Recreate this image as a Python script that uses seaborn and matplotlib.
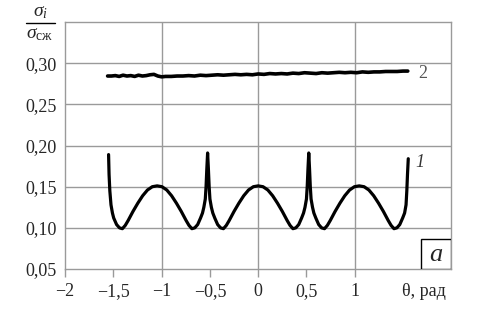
import matplotlib
matplotlib.use('Agg')
import pandas as pd
import matplotlib.pyplot as plt
import seaborn as sns
from matplotlib.patches import Rectangle

# curve 1 (σ_i / σ_сж vs θ)
theta_1 = [-1.550, -1.545, -1.537, -1.525, -1.510, -1.497, -1.467, -1.437, -1.407, -1.377, -1.347,
           -1.297, -1.247, -1.197, -1.147, -1.097, -1.047, -0.997, -0.947, -0.897, -0.847, -0.797,
           -0.747, -0.717, -0.687, -0.657, -0.627, -0.597, -0.577, -0.563, -0.548, -0.540, -0.532, -0.524,
           -0.516, -0.508, -0.500, -0.485, -0.470, -0.450, -0.420, -0.390, -0.360, -0.330, -0.300,
           -0.250, -0.200, -0.150, -0.100, -0.050, 0.000, 0.050, 0.100, 0.150, 0.200, 0.250, 0.300,
           0.330, 0.360, 0.390, 0.420, 0.450, 0.470, 0.485, 0.500, 0.508, 0.516, 0.524,
           0.532, 0.540, 0.548, 0.563, 0.577, 0.597, 0.627, 0.657, 0.687, 0.717, 0.747, 0.797, 0.847,
           0.897, 0.947, 0.997, 1.047, 1.097, 1.147, 1.197, 1.247, 1.297, 1.347, 1.377, 1.407, 1.437,
           1.467, 1.497, 1.517, 1.532, 1.540, 1.547, 1.555]
sigma_1 = [0.189, 0.165, 0.145, 0.128, 0.118, 0.112, 0.104, 0.100, 0.099, 0.103, 0.109,
           0.120, 0.130, 0.139, 0.146, 0.150, 0.151, 0.150, 0.146, 0.139, 0.130, 0.120,
           0.109, 0.103, 0.099, 0.100, 0.104, 0.112, 0.118, 0.125, 0.135, 0.150, 0.172, 0.191,
           0.172, 0.150, 0.135, 0.125, 0.118, 0.112, 0.104, 0.100, 0.099, 0.103, 0.109,
           0.120, 0.130, 0.139, 0.146, 0.150, 0.151, 0.150, 0.146, 0.139, 0.130, 0.120, 0.109,
           0.103, 0.099, 0.100, 0.104, 0.112, 0.118, 0.125, 0.135, 0.150, 0.172, 0.191,
           0.172, 0.150, 0.135, 0.125, 0.118, 0.112, 0.104, 0.100, 0.099, 0.103, 0.109, 0.120, 0.130,
           0.139, 0.146, 0.150, 0.151, 0.150, 0.146, 0.139, 0.130, 0.120, 0.109, 0.103, 0.099, 0.100,
           0.104, 0.112, 0.118, 0.128, 0.145, 0.165, 0.184]

# curve 2 (almost flat, slightly noisy)
theta_2 = [-1.56, -1.52, -1.48, -1.44, -1.40, -1.36, -1.32, -1.28, -1.24, -1.20, -1.16, -1.12,
           -1.08, -1.04, -1.00, -0.96, -0.90, -0.84, -0.78, -0.72, -0.66, -0.60, -0.54, -0.48,
           -0.42, -0.36, -0.30, -0.24, -0.18, -0.12, -0.06, 0.00, 0.06, 0.12, 0.18, 0.24, 0.30,
           0.36, 0.42, 0.48, 0.54, 0.60, 0.66, 0.72, 0.78, 0.84, 0.90, 0.96, 1.02, 1.08, 1.14,
           1.20, 1.26, 1.32, 1.38, 1.44, 1.50, 1.55]
sigma_2 = [0.2845, 0.2845, 0.2850, 0.2840, 0.2855, 0.2845, 0.2850, 0.2840, 0.2855, 0.2845, 0.2850,
           0.2860, 0.2865, 0.2845, 0.2835, 0.2840, 0.2840, 0.2845, 0.2845, 0.2850, 0.2845, 0.2855,
           0.2850, 0.2855, 0.2860, 0.2855, 0.2860, 0.2865, 0.2860, 0.2865, 0.2860, 0.2870, 0.2865,
           0.2875, 0.2870, 0.2875, 0.2870, 0.2880, 0.2875, 0.2885, 0.2880, 0.2875, 0.2885, 0.2880,
           0.2885, 0.2890, 0.2885, 0.2890, 0.2885, 0.2895, 0.2890, 0.2895, 0.2895, 0.2900, 0.2900,
           0.2900, 0.2905, 0.2905]

x_ticks = [-2, -1.5, -1, -0.5, 0, 0.5, 1]
x_tick_labels = ['\u22122', '\u22121,5', '\u22121', '\u22120,5', '0', '0,5', '1']
y_ticks = [0.05, 0.10, 0.15, 0.20, 0.25, 0.30]
y_tick_labels = ['0,05', '0,10', '0,15', '0,20', '0,25', '0,30']

df1 = pd.DataFrame({'theta': theta_1, 'sigma': sigma_1})
df2 = pd.DataFrame({'theta': theta_2, 'sigma': sigma_2})

sns.set_theme(style='white')
plt.rcParams['font.family'] = ['Liberation Serif', 'DejaVu Serif']
plt.rcParams['mathtext.fontset'] = 'custom'
plt.rcParams['mathtext.rm'] = 'Liberation Serif'
plt.rcParams['mathtext.it'] = 'Liberation Serif:italic'

fig = plt.figure(figsize=(4.79, 3.35), dpi=100)
ax = fig.add_axes([0.136, 0.197, 0.806, 0.737])

grid_c = '#9a9a9a'
ax.set_xlim(-2, 2)
ax.set_ylim(0.05, 0.35)
for v in [-1, 0, 1]:
    ax.axvline(v, color=grid_c, lw=1.0, zorder=0)
for v in [0.10, 0.15, 0.20, 0.25, 0.30]:
    ax.axhline(v, color=grid_c, lw=1.0, zorder=0)
for s in ax.spines.values():
    s.set_color(grid_c)
    s.set_linewidth(1.0)

sns.lineplot(data=df1, x='theta', y='sigma', ax=ax, color='black', lw=2.3, sort=False,
             estimator=None)
sns.lineplot(data=df2, x='theta', y='sigma', ax=ax, color='black', lw=2.6, sort=False,
             estimator=None)

ax.set_xticks(x_ticks)
ax.set_xticklabels(x_tick_labels)
ax.set_yticks(y_ticks)
ax.set_yticklabels(y_tick_labels)
ax.tick_params(axis='x', direction='out', length=6, color=grid_c, width=1, labelsize=13, pad=4,
               bottom=True)
ax.tick_params(axis='y', length=0, labelsize=13, pad=6)
ax.set_xlabel('')
ax.set_ylabel('')

# axis name placed where the last tick labels would be
ax.annotate('\u03b8, рад', xy=(1.72, 0), xycoords=('data', 'axes fraction'),
            xytext=(0, -10), textcoords='offset points', fontsize=13, ha='center', va='top')

ax.text(1.675, 0.180, '1', fontsize=13, style='italic', color='#333333', ha='center', va='center')
ax.text(1.70, 0.287, '2', fontsize=13, color='#555555', ha='center', va='center')

# box with "a"
ax.add_patch(Rectangle((0.922, 0.0), 0.078, 0.121, transform=ax.transAxes, facecolor='white',
                       edgecolor='black', lw=1.0, zorder=5))
ax.text(0.961, 0.058, 'a', transform=ax.transAxes, fontsize=19, style='italic', ha='center',
        va='center', zorder=6)

# y-axis label as a fraction
fig.text(40 / 479, 1 - 12 / 335, r'$\sigma_{i}$', fontsize=14, ha='center', va='center')
fig.add_artist(plt.Line2D([26 / 479, 55 / 479], [1 - 23 / 335, 1 - 23 / 335], color='black', lw=1.0))
fig.text(40 / 479, 1 - 34 / 335, r'$\sigma_{\mathrm{сж}}$', fontsize=14, ha='center', va='center')

fig.savefig('out.png', dpi=100)
